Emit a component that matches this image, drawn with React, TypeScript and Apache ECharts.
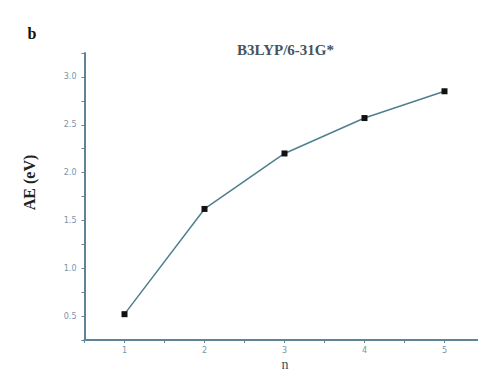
import React, { useEffect, useRef } from "react";
import * as echarts from "echarts";

const nValues = [1, 2, 3, 4, 5];
const aeValues = [0.52, 1.62, 2.2, 2.57, 2.85];
const titleText = "B3LYP/6-31G*";
const panelLabel = "b";
const yAxisName = "AE (eV)";
const xAxisName = "n";

export default function App() {
  const ref = useRef<HTMLDivElement>(null);
  useEffect(() => {
    if (!ref.current) return;
    const chart = echarts.init(ref.current, undefined, { renderer: "svg" });
    const axisColor = "#5f8498";
    const labelColor = "#7d93a3";
    const serif = "'Liberation Serif', 'Times New Roman', serif";
    chart.setOption({
      animation: false,
      backgroundColor: "#ffffff",
      graphic: [
        {
          type: "text",
          x: 32,
          y: 33,
          style: {
            text: panelLabel,
            font: `bold 16px ${serif}`,
            fill: "#111",
            textAlign: "center",
            textVerticalAlign: "middle",
          },
        },
        {
          type: "text",
          x: 285.5,
          y: 50,
          style: {
            text: titleText,
            font: `bold 15px ${serif}`,
            fill: "#44545e",
            textAlign: "center",
            textVerticalAlign: "middle",
          },
        },
        {
          type: "text",
          x: 29,
          y: 182.5,
          rotation: Math.PI / 2,
          style: {
            text: yAxisName,
            font: `bold 16px ${serif}`,
            fill: "#222",
            textAlign: "center",
            textVerticalAlign: "middle",
          },
        },
        {
          type: "text",
          x: 285,
          y: 364,
          style: {
            text: xAxisName,
            font: `14px ${serif}`,
            fill: "#34505e",
            textAlign: "center",
            textVerticalAlign: "middle",
          },
        },
      ],
      grid: { left: 84.5, top: 53, width: 400, bottom: 31, outerBoundsMode: "none", containLabel: false },
      xAxis: {
        type: "value",
        min: 0.5,
        max: 5.5,
        interval: 0.5,
        splitLine: { show: false },
        axisLine: { lineStyle: { color: axisColor, width: 2 } },
        axisTick: { length: 3, lineStyle: { color: axisColor, width: 1 } },
        axisLabel: {
          fontSize: 8,
          color: labelColor,
          margin: 6,
          fontFamily: "'DejaVu Sans', sans-serif",
          formatter: (v: number) => (Math.abs(v - Math.round(v)) < 1e-6 && v >= 1 ? String(Math.round(v)) : ""),
        },
      },
      yAxis: {
        type: "value",
        min: 0.25,
        max: 3.25,
        interval: 0.25,
        splitLine: { show: false },
        axisLine: { lineStyle: { color: axisColor, width: 2 } },
        axisTick: { length: 3, lineStyle: { color: axisColor, width: 1 } },
        axisLabel: {
          fontSize: 8,
          color: labelColor,
          margin: 8,
          fontFamily: "'DejaVu Sans', sans-serif",
          formatter: (v: number) => {
            const r = Math.round(v * 100) / 100;
            return Math.abs(r * 2 - Math.round(r * 2)) < 1e-6 && r >= 0.5 && r <= 3.0 ? r.toFixed(1) : "";
          },
        },
      },
      series: [
        {
          type: "line",
          data: nValues.map((n, i) => [n, aeValues[i]]),
          symbol: "rect",
          symbolSize: 6,
          itemStyle: { color: "#111" },
          lineStyle: { color: "#4f7f8f", width: 1.5 },
        },
      ],
    });
    return () => chart.dispose();
  }, []);
  return <div ref={ref} style={{ width: 478, height: 371, position: "absolute", left: 0, top: 0 }} />;
}
